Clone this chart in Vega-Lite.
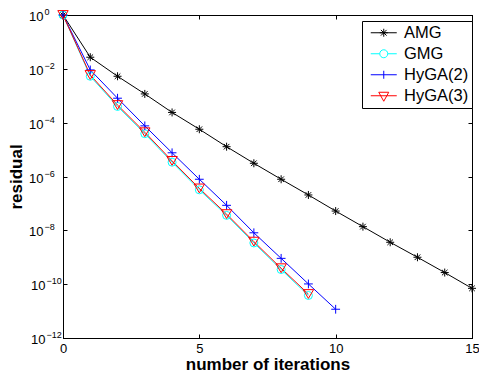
{
  "$schema": "https://vega.github.io/schema/vega-lite/v6.json",
  "width": 409,
  "height": 323,
  "autosize": {"type": "none"},
  "padding": {"left": 63, "top": 15, "right": 7, "bottom": 41},
  "background": "white",
  "config": {
    "font": "Liberation Sans",
    "view": {"stroke": "black", "strokeWidth": 1},
    "axis": {
      "grid": false,
      "domainColor": "black",
      "domainWidth": 1,
      "tickColor": "black",
      "tickWidth": 1,
      "labelColor": "black",
      "labelFont": "Liberation Sans",
      "titleFont": "Liberation Sans",
      "titleColor": "black"
    }
  },
  "data": {
    "values": [
      {"it": 0, "r": 1, "s": "AMG"},
      {"it": 1, "r": 2.7e-2, "s": "AMG"},
      {"it": 2, "r": 5.3e-3, "s": "AMG"},
      {"it": 3, "r": 1.17e-3, "s": "AMG"},
      {"it": 4, "r": 2.4e-4, "s": "AMG"},
      {"it": 5, "r": 5.7e-5, "s": "AMG"},
      {"it": 6, "r": 1.28e-5, "s": "AMG"},
      {"it": 7, "r": 3.1e-6, "s": "AMG"},
      {"it": 8, "r": 7.9e-7, "s": "AMG"},
      {"it": 9, "r": 2.06e-7, "s": "AMG"},
      {"it": 10, "r": 5.2e-8, "s": "AMG"},
      {"it": 11, "r": 1.37e-8, "s": "AMG"},
      {"it": 12, "r": 3.6e-9, "s": "AMG"},
      {"it": 13, "r": 1.0e-9, "s": "AMG"},
      {"it": 14, "r": 2.7e-10, "s": "AMG"},
      {"it": 15, "r": 7.0e-11, "s": "AMG"},
      {"it": 0, "r": 1, "s": "GMG"},
      {"it": 1, "r": 5.3e-3, "s": "GMG"},
      {"it": 2, "r": 4.0e-4, "s": "GMG"},
      {"it": 3, "r": 3.9e-5, "s": "GMG"},
      {"it": 4, "r": 3.4e-6, "s": "GMG"},
      {"it": 5, "r": 3.2e-7, "s": "GMG"},
      {"it": 6, "r": 3.6e-8, "s": "GMG"},
      {"it": 7, "r": 3.4e-9, "s": "GMG"},
      {"it": 8, "r": 3.5e-10, "s": "GMG"},
      {"it": 9, "r": 3.8e-11, "s": "GMG"},
      {"it": 0, "r": 1, "s": "HyGA(2)"},
      {"it": 1, "r": 9.1e-3, "s": "HyGA(2)"},
      {"it": 2, "r": 8.1e-4, "s": "HyGA(2)"},
      {"it": 3, "r": 7.6e-5, "s": "HyGA(2)"},
      {"it": 4, "r": 7.6e-6, "s": "HyGA(2)"},
      {"it": 5, "r": 7.9e-7, "s": "HyGA(2)"},
      {"it": 6, "r": 8.5e-8, "s": "HyGA(2)"},
      {"it": 7, "r": 8.1e-9, "s": "HyGA(2)"},
      {"it": 8, "r": 9.1e-10, "s": "HyGA(2)"},
      {"it": 9, "r": 1.02e-10, "s": "HyGA(2)"},
      {"it": 10, "r": 1.17e-11, "s": "HyGA(2)"},
      {"it": 0, "r": 1, "s": "HyGA(3)"},
      {"it": 1, "r": 5.9e-3, "s": "HyGA(3)"},
      {"it": 2, "r": 4.5e-4, "s": "HyGA(3)"},
      {"it": 3, "r": 4.4e-5, "s": "HyGA(3)"},
      {"it": 4, "r": 3.8e-6, "s": "HyGA(3)"},
      {"it": 5, "r": 3.6e-7, "s": "HyGA(3)"},
      {"it": 6, "r": 4.0e-8, "s": "HyGA(3)"},
      {"it": 7, "r": 3.8e-9, "s": "HyGA(3)"},
      {"it": 8, "r": 3.9e-10, "s": "HyGA(3)"},
      {"it": 9, "r": 4.3e-11, "s": "HyGA(3)"}
    ]
  },
  "layer": [
    {
      "mark": {"type": "line", "strokeWidth": 1},
      "encoding": {
        "x": {
          "field": "it", "type": "quantitative",
          "scale": {"domain": [0, 15], "nice": false},
          "axis": {
            "orient": "bottom", "values": [0, 5, 10, 15], "tickSize": -4,
            "labelFontSize": 13, "labelPadding": 8, "labelFlush": false,
            "title": "number of iterations", "titleFontSize": 17, "titleFontWeight": "bold", "titlePadding": 1
          }
        },
        "y": {
          "field": "r", "type": "quantitative",
          "scale": {"type": "log", "domain": [1e-12, 1], "nice": false},
          "axis": {
            "orient": "left", "values": [1e-12, 1e-10, 1e-8, 1e-6, 1e-4, 1e-2, 1], "tickSize": -4,
            "labelFontSize": 13,
            "labelPadding": {"condition": {"test": "datum.value < 5e-10", "value": 22}, "value": 24},
            "labelOffset": 1.5,
            "labelExpr": "'10'",
            "title": "residual", "titleFontSize": 17, "titleFontWeight": "bold", "titlePadding": 3
          }
        },
        "color": {
          "field": "s", "type": "nominal",
          "scale": {"domain": ["AMG", "GMG", "HyGA(2)", "HyGA(3)"], "range": ["#000000", "#00ffff", "#0000ff", "#ff0000"]},
          "legend": null
        }
      }
    },
    {
      "mark": {"type": "point", "filled": false, "strokeWidth": 1, "size": 64, "opacity": 1},
      "encoding": {
        "x": {"field": "it", "type": "quantitative", "axis": {"orient": "top", "values": [0, 5, 10, 15], "tickSize": -4, "labels": false, "title": null}},
        "y": {"field": "r", "type": "quantitative", "axis": {"orient": "right", "values": [1e-12, 1e-10, 1e-8, 1e-6, 1e-4, 1e-2, 1], "tickSize": -4, "labels": false, "title": null}},
        "color": {"field": "s", "type": "nominal", "legend": null},
        "shape": {
          "field": "s", "type": "nominal",
          "scale": {
            "domain": ["AMG", "GMG", "HyGA(2)", "HyGA(3)"],
            "range": [
              "M-1,0L1,0M0,-1L0,1M-0.7,-0.7L0.7,0.7M-0.7,0.7L0.7,-0.7",
              "circle",
              "M-1.1,0L1.1,0M0,-1.1L0,1.1",
              "M-1.3,-1.1L1.3,-1.1L0,1.1Z"
            ]
          },
          "legend": null
        }
      }
    },
    {
      "transform": [{"filter": "datum.it < 0"}],
      "mark": {"type": "point", "filled": false, "strokeWidth": 1, "size": 100, "opacity": 1},
      "encoding": {
        "x": {"field": "it", "type": "quantitative", "axis": null},
        "y": {
          "field": "r", "type": "quantitative",
          "axis": {
            "orient": "left", "values": [1e-12, 1e-10, 1e-8, 1e-6, 1e-4, 1e-2, 1],
            "ticks": false, "tickSize": 0, "domain": false, "title": null,
            "labelFontSize": 9, "labelAlign": "left",
            "labelPadding": {"condition": {"test": "datum.value < 5e-10", "value": 17}, "value": 19},
            "labelOffset": -3.5,
            "labelExpr": "datum.value >= 0.5 ? '0' : '−' + format(-round(log(datum.value) / LN10), 'd')"
          }
        },
        "color": {
          "field": "s", "type": "nominal",
          "legend": {
            "orient": "none", "legendX": 299, "legendY": 6, "title": null,
            "strokeColor": "black", "fillColor": "white", "padding": 3.5,
            "labelFontSize": 16.5, "labelFont": "Liberation Sans", "labelColor": "black",
            "labelOffset": 22, "rowPadding": 4, "symbolStrokeWidth": 1
          }
        },
        "shape": {
          "field": "s", "type": "nominal",
          "scale": {
            "domain": ["AMG", "GMG", "HyGA(2)", "HyGA(3)"],
            "range": [
              "M-0.6,0L4.6,0M1.2,0L2.8,0M2,-0.8L2,0.8M1.43,-0.57L2.57,0.57M1.43,0.57L2.57,-0.57",
              "M-0.6,0L1.2,0M2.8,0L4.6,0M2.8,0A0.8,0.8,0,1,1,1.2,0A0.8,0.8,0,1,1,2.8,0",
              "M-0.6,0L4.6,0M2,-0.8L2,0.8",
              "M-0.6,0L4.6,0M1,-0.7L3,-0.7L2,1.1Z"
            ]
          },
          "legend": {
            "orient": "none", "legendX": 299, "legendY": 6, "title": null,
            "strokeColor": "black", "fillColor": "white", "padding": 3.5,
            "labelFontSize": 16.5, "labelFont": "Liberation Sans", "labelColor": "black",
            "labelOffset": 22, "rowPadding": 4, "symbolStrokeWidth": 1
          }
        }
      }
    }
  ],
  "resolve": {
    "axis": {"x": "independent", "y": "independent"},
    "scale": {"shape": "independent"},
    "legend": {"shape": "independent", "color": "independent"}
  }
}
